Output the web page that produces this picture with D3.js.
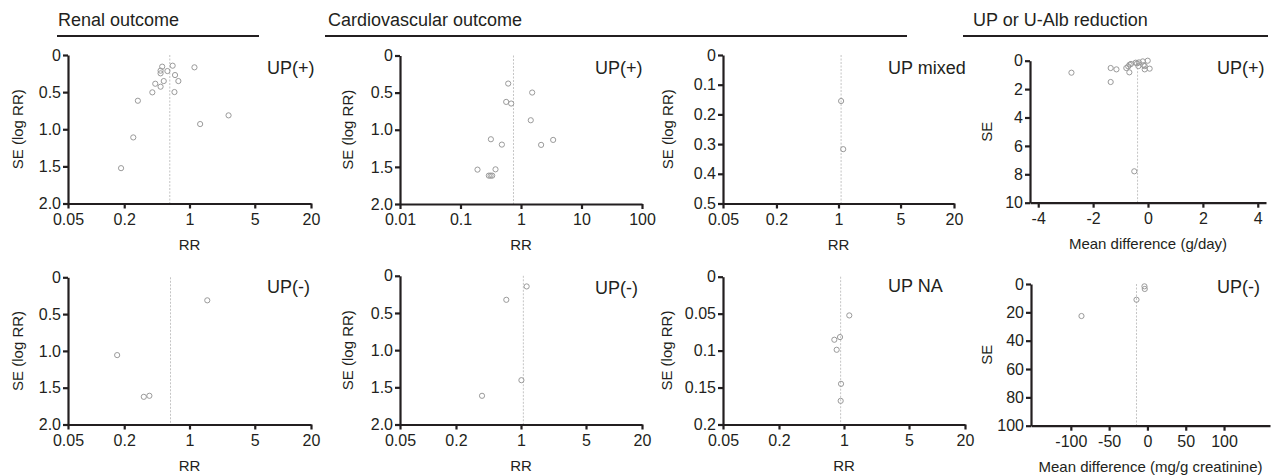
<!DOCTYPE html>
<html>
<head>
<meta charset="utf-8">
<script src="https://cdn.jsdelivr.net/npm/d3@7"></script>
<style>
  body { margin: 0; background: #fff; }
  svg { display: block; font-family: "Liberation Sans", Arial, sans-serif; }
  .axis path, .axis line { stroke: #231f20; stroke-width: 2.2; }
  .axis text { fill: #231f20; font-size: 16px; }
</style>
</head>
<body>
<svg id="chart" width="1272" height="476"></svg>
<script>
// tick values
var rrTicks = [0.05, 0.2, 1, 5, 20];
var rrTicksWide = [0.01, 0.1, 1, 10, 100];
var seTicksRR = [0, 0.5, 1.0, 1.5, 2.0];
var seTicksMixed = [0, 0.1, 0.2, 0.3, 0.4, 0.5];
var seTicksNA = [0, 0.05, 0.1, 0.15, 0.2];
var seTicksUP = [0, 2, 4, 6, 8, 10];
var seTicksAlb = [0, 20, 40, 60, 80, 100];
var mdTicksUP = [-4, -2, 0, 2, 4];
var mdTicksAlb = [-100, -50, 0, 50, 100];

// renal outcome, UP(+)
var renalPosRR = [0.51, 0.66, 1.13, 0.49, 0.58, 0.49, 0.70, 0.76, 0.53, 0.43, 0.49, 0.40, 0.69, 0.28, 2.62, 1.30, 0.25, 0.185];
var renalPosSE = [0.157, 0.144, 0.166, 0.211, 0.216, 0.247, 0.270, 0.351, 0.351, 0.387, 0.427, 0.503, 0.499, 0.616, 0.813, 0.930, 1.110, 1.524];
// cardiovascular outcome, UP(+)
var cvPosRR = [0.614, 1.53, 0.569, 0.688, 1.45, 0.318, 3.40, 0.483, 2.15, 0.191, 0.379, 0.294, 0.314, 0.334];
var cvPosSE = [0.378, 0.499, 0.625, 0.647, 0.872, 1.128, 1.137, 1.20, 1.204, 1.537, 1.533, 1.618, 1.618, 1.618];
// cardiovascular outcome, UP mixed
var cvMixedRR = [1.07, 1.13];
var cvMixedSE = [0.155, 0.317];
// UP reduction, UP(+)
var upPosMD = [-2.79, -1.36, -1.15, -1.36, -0.79, -0.72, -0.67, -0.62, -0.68, -0.45, -0.40, -0.33, -0.35, -0.19, -0.16, -0.12, -0.01, -0.12, 0.06, -0.50];
var upPosSE = [0.845, 0.516, 0.61, 1.50, 0.516, 0.40, 0.28, 0.23, 0.82, 0.14, 0.19, 0.12, 0.38, 0.05, 0.31, 0.38, 0.0, 0.61, 0.56, 7.79];
// renal outcome, UP(-)
var renalNegRR = [1.55, 0.168, 0.324, 0.372];
var renalNegSE = [0.313, 1.057, 1.624, 1.61];
// cardiovascular outcome, UP(-)
var cvNegRR = [1.15, 0.695, 1.01, 0.381];
var cvNegSE = [0.143, 0.323, 1.404, 1.614];
// cardiovascular outcome, UP NA
var cvNaRR = [1.14, 0.906, 0.787, 0.834, 0.929, 0.921];
var cvNaSE = [0.0524, 0.0817, 0.0853, 0.0989, 0.145, 0.168];
// U-Alb reduction, UP(-)
var albNegMD = [-3.9, -3.5, -14.3, -86.1];
var albNegSE = [1.65, 3.5, 11.1, 22.6];

// pooled estimates (dashed line)
var pooled = [0.615, 0.751, 1.07, -0.38, 0.626, 1.06, 0.92, -14.3];

var headers = ["Renal outcome", "Cardiovascular outcome", "UP or U-Alb reduction"];
var panelLabels = ["UP(+)", "UP(+)", "UP mixed", "UP(+)", "UP(-)", "UP(-)", "UP NA", "UP(-)"];

var svg = d3.select("#chart");

var loc = d3.formatLocale({decimal: ".", thousands: ",", grouping: [3], currency: ["", ""], minus: "-"});
var fmtSE = function(d) { return d === 0 ? "0" : loc.format(".1f")(d); };
var fmtG = loc.format("~g");

var panels = [
  {x: renalPosRR, y: renalPosSE, log: true, xd: [0.05, 20], xt: rrTicks, yd: [0, 2], yt: seTicksRR, yf: fmtSE,
   r: [68, 311, 55, 203.5], lx: 267, ly: 74, tx: 18, xl: "RR", yl: "SE (log RR)"},
  {x: cvPosRR, y: cvPosSE, log: true, xd: [0.01, 100], xt: rrTicksWide, yd: [0, 2], yt: seTicksRR, yf: fmtSE,
   r: [400, 642, 55.5, 204], lx: 595, ly: 74, tx: 348, xl: "RR", yl: "SE (log RR)"},
  {x: cvMixedRR, y: cvMixedSE, log: true, xd: [0.05, 20], xt: rrTicks, yd: [0, 0.5], yt: seTicksMixed, yf: fmtSE,
   r: [723, 954, 55, 203.5], lx: 888, ly: 74, tx: 668, xl: "RR", yl: "SE (log RR)"},
  {x: upPosMD, y: upPosSE, log: false, xd: [-4.3, 4.3], xt: mdTicksUP, yd: [0, 10], yt: seTicksUP, yf: fmtG,
   r: [1030, 1266, 60.7, 202.7], lx: 1217, ly: 74, tx: 987, xl: "Mean difference (g/day)", yl: "SE"},
  {x: renalNegRR, y: renalNegSE, log: true, xd: [0.05, 20], xt: rrTicks, yd: [0, 2], yt: seTicksRR, yf: fmtSE,
   r: [68, 311, 277.3, 424.5], lx: 267, ly: 293, tx: 18, xl: "RR", yl: "SE (log RR)"},
  {x: cvNegRR, y: cvNegSE, log: true, xd: [0.05, 20], xt: rrTicks, yd: [0, 2], yt: seTicksRR, yf: fmtSE,
   r: [400, 642, 275.8, 424.5], lx: 595, ly: 294, tx: 348, xl: "RR", yl: "SE (log RR)"},
  {x: cvNaRR, y: cvNaSE, log: true, xd: [0.05, 20], xt: rrTicks, yd: [0, 0.2], yt: seTicksNA, yf: fmtG,
   r: [723, 965, 276.7, 424.5], lx: 888, ly: 292, tx: 667, xl: "RR", yl: "SE (log RR)"},
  {x: albNegMD, y: albNegSE, log: false, xd: [-152, 160], xt: mdTicksAlb, yd: [0, 100], yt: seTicksAlb, yf: fmtG,
   r: [1031, 1270, 284, 425.7], lx: 1217, ly: 293, tx: 987, xl: "Mean difference (mg/g creatinine)", yl: "SE"}
];

panels.forEach(function(p, i) {
  var g = svg.append("g");
  var xScale = (p.log ? d3.scaleLog() : d3.scaleLinear()).domain(p.xd).range([p.r[0], p.r[1]]);
  var yScale = d3.scaleLinear().domain(p.yd).range([p.r[2], p.r[3]]);

  // pooled estimate
  g.append("line")
    .attr("x1", xScale(pooled[i])).attr("x2", xScale(pooled[i]))
    .attr("y1", p.r[2]).attr("y2", p.r[3])
    .attr("stroke", "#c4c4c4").attr("stroke-width", 1)
    .attr("stroke-dasharray", "2,1.5");

  g.append("g").attr("class", "axis")
    .attr("transform", "translate(0," + p.r[3] + ")")
    .call(d3.axisBottom(xScale).tickValues(p.xt).tickFormat(fmtG).tickSize(5).tickSizeOuter(0).tickPadding(5));
  g.append("g").attr("class", "axis")
    .attr("transform", "translate(" + p.r[0] + ",0)")
    .call(d3.axisLeft(yScale).tickValues(p.yt).tickFormat(p.yf).tickSize(5).tickSizeOuter(0).tickPadding(2));
  g.selectAll(".axis").attr("font-size", null).attr("font-family", null);

  var pts = p.x.map(function(v, j) { return [v, p.y[j]]; });
  g.selectAll(".dot")
    .data(pts)
    .enter().append("circle")
    .attr("class", "dot")
    .attr("cx", function(d) { return xScale(d[0]); })
    .attr("cy", function(d) { return yScale(d[1]); })
    .attr("r", 2.6)
    .attr("fill", "none")
    .attr("stroke", "#9a9a9a")
    .attr("stroke-width", 1);

  g.append("text")
    .attr("x", p.lx).attr("y", p.ly)
    .attr("font-size", "18px").attr("fill", "#231f20")
    .text(panelLabels[i]);

  g.append("text")
    .attr("x", (p.r[0] + p.r[1]) / 2).attr("y", p.r[3] + 46)
    .attr("text-anchor", "middle")
    .attr("font-size", "15px").attr("fill", "#231f20")
    .text(p.xl);

  g.append("text")
    .attr("transform", "translate(" + p.tx + "," + ((p.r[2] + p.r[3]) / 2) + ") rotate(-90)")
    .attr("text-anchor", "middle").attr("dy", "0.35em")
    .attr("font-size", "15px").attr("fill", "#231f20")
    .text(p.yl);
});

// section headers with underline
var headerPos = [[58, 57, 259], [328, 325, 907], [973, 963, 1268]];
headers.forEach(function(h, i) {
  svg.append("text")
    .attr("x", headerPos[i][0]).attr("y", 26)
    .attr("font-size", "18px").attr("fill", "#231f20")
    .text(h);
  svg.append("line")
    .attr("x1", headerPos[i][1]).attr("x2", headerPos[i][2])
    .attr("y1", 36).attr("y2", 36)
    .attr("stroke", "#231f20").attr("stroke-width", 2);
});
</script>
</body>
</html>
